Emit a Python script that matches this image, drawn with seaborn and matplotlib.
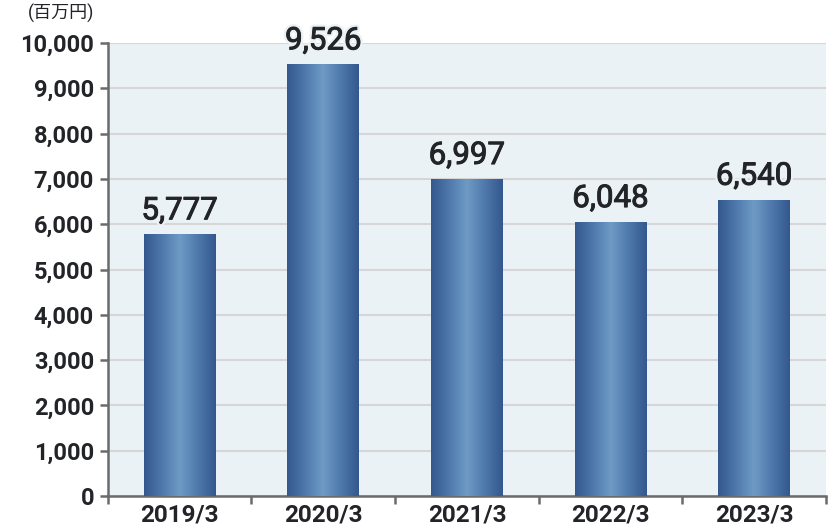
import numpy as np
import pandas as pd
import matplotlib
matplotlib.use("Agg")
import matplotlib.pyplot as plt
import matplotlib.patheffects as pe
from matplotlib.colors import LinearSegmentedColormap
from matplotlib.ticker import FuncFormatter, FixedLocator
import seaborn as sns

# --- data ---
years = ["2019/3", "2020/3", "2021/3", "2022/3", "2023/3"]
values = [5777, 9526, 6997, 6048, 6540]
unit_label = "(百万円)"

BG = "#ebf2f5"
GRID = "#d6d6d6"
SPINE = "#6b6b6b"
TEXT = "#222428"

sns.set_theme(style="white")
plt.rcParams["font.family"] = ["Roboto", "Noto Sans CJK JP", "DejaVu Sans"]

df = pd.DataFrame({"year": years, "value": values})

fig = plt.figure(figsize=(8.3, 5.3), dpi=100)
ax = fig.add_axes([0.130, 0.064, 0.865, 0.855])
ax.set_facecolor(BG)

sns.barplot(data=df, x="year", y="value", ax=ax, width=0.5, color="#3d6197",
            edgecolor="none", zorder=3)

# horizontal gradient inside each bar (dark edges, light centre)
grad_cmap = LinearSegmentedColormap.from_list(
    "bar", ["#33588e", "#4f78ab", "#6d9bc5", "#4f78ab", "#33588e"])
grad = np.linspace(0, 1, 256).reshape(1, -1)
for patch in ax.patches:
    x0, y0 = patch.get_x(), patch.get_y()
    w, h = patch.get_width(), patch.get_height()
    patch.set_facecolor("none")
    im = ax.imshow(grad, cmap=grad_cmap, aspect="auto", zorder=3,
                   extent=[x0, x0 + w, y0, y0 + h], interpolation="bicubic")
    im.set_clip_path(patch)

ax.set_xlim(-0.5, len(years) - 0.5)
ax.set_ylim(0, 10000)
ax.set_yticks(np.arange(0, 10001, 1000))
ax.yaxis.set_major_formatter(FuncFormatter(lambda v, p: f"{int(v):,}"))
ax.grid(axis="y", color=GRID, linewidth=1.5, zorder=1)
ax.set_axisbelow(True)

# value labels (regular weight thickened a little to look like medium)
for i, v in enumerate(values):
    ax.text(i, v + 330, f"{v:,}", ha="center", va="baseline", fontsize=22.5,
            color=TEXT, zorder=5,
            path_effects=[pe.Stroke(linewidth=4, foreground=BG),
                          pe.Stroke(linewidth=0.7, foreground=TEXT),
                          pe.Normal()])

for side in ["top", "right"]:
    ax.spines[side].set_visible(False)
for side in ["left", "bottom"]:
    ax.spines[side].set_color(SPINE)
    ax.spines[side].set_linewidth(1.8)

ax.tick_params(axis="y", direction="out", length=6, width=1.8, color=SPINE,
               labelsize=17, labelcolor=TEXT, pad=4, left=True)
ax.tick_params(axis="x", which="major", length=0, labelsize=17.5,
               labelcolor=TEXT, pad=5)
ax.xaxis.set_minor_locator(FixedLocator(np.arange(-0.5, len(years), 1.0)))
ax.tick_params(axis="x", which="minor", direction="out", length=6, width=1.8,
               color=SPINE, bottom=True)
for lab in ax.get_xticklabels() + ax.get_yticklabels():
    lab.set_fontweight("bold")

ax.set_xlabel("")
ax.set_ylabel("")
fig.text(0.034, 0.974, unit_label, fontsize=13, color=TEXT, ha="left", va="center")

fig.savefig("out.png", dpi=100, facecolor="white")
